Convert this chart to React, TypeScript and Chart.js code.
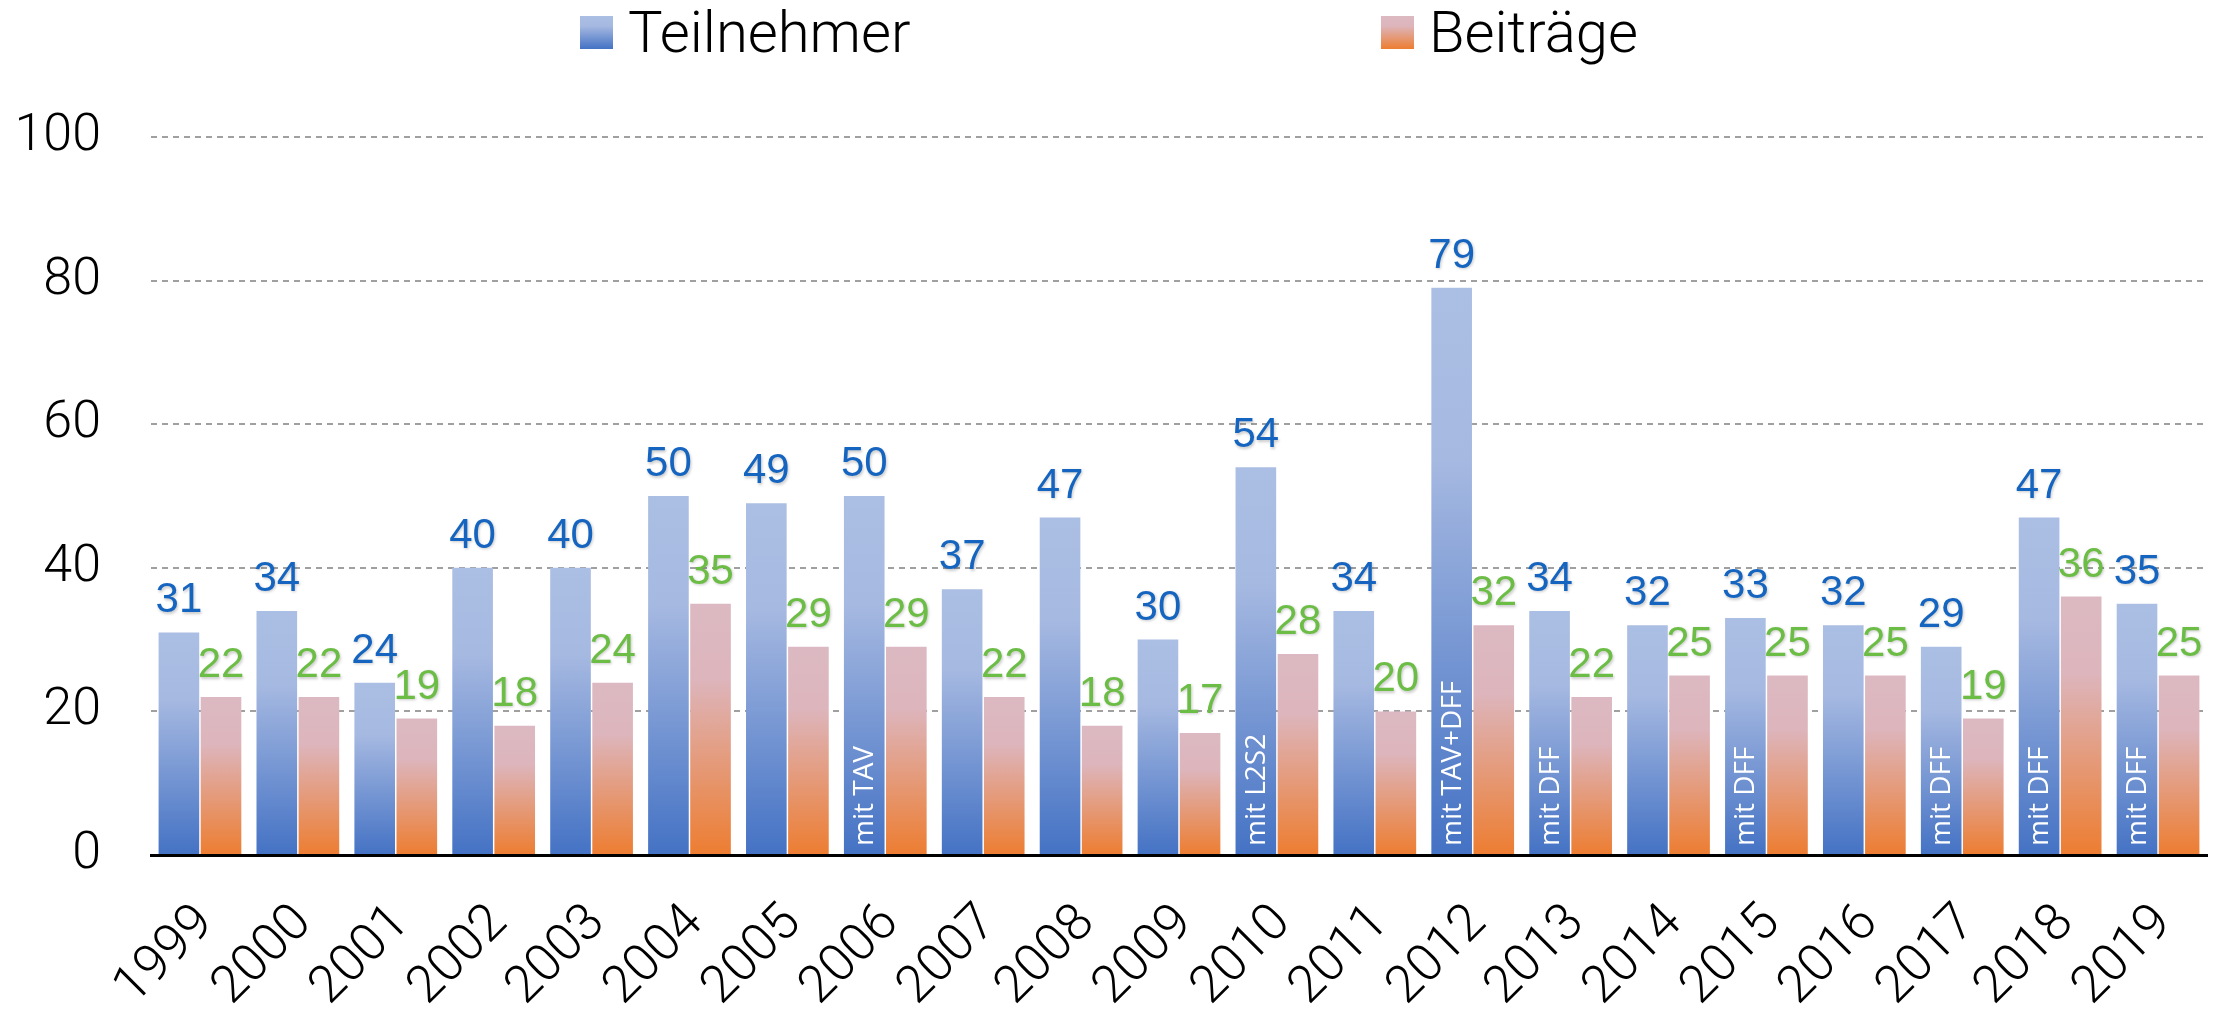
import React, { useEffect, useRef } from 'react';
import { Chart, registerables } from 'chart.js';

Chart.register(...registerables);

const W = 2231;
const H = 1011;

const years = ['1999', '2000', '2001', '2002', '2003', '2004', '2005', '2006', '2007', '2008', '2009', '2010', '2011', '2012', '2013', '2014', '2015', '2016', '2017', '2018', '2019'];
const teilnehmer = [31, 34, 24, 40, 40, 50, 49, 50, 37, 47, 30, 54, 34, 79, 34, 32, 33, 32, 29, 47, 35];
const beitraege = [22, 22, 19, 18, 24, 35, 29, 29, 22, 18, 17, 28, 20, 32, 22, 25, 25, 25, 19, 36, 25];
const notes = ['', '', '', '', '', '', '', 'mit TAV', '', '', '', 'mit L2S2', '', 'mit TAV+DFF', 'mit DFF', '', 'mit DFF', '', 'mit DFF', 'mit DFF', 'mit DFF'];
const seriesNames = ['Teilnehmer', 'Beiträge'];
const yMin = 0;
const yMax = 100;
const yStep = 20;

const blueStops = ['#abbee3', '#a6b9e1', '#4472c4'];
const pinkStops = ['#dcb9c2', '#ddb5bc', '#ed7d31'];
const labelColors = ['#1565c0', '#6cbd45'];

const AXIS_FONT = 'Roboto';

function makeGradient(ctx: CanvasRenderingContext2D, y0: number, y1: number, stops: string[]) {
  const g = ctx.createLinearGradient(0, y0, 0, y1);
  g.addColorStop(0, stops[0]);
  g.addColorStop(0.3, stops[1]);
  g.addColorStop(1, stops[2]);
  return g;
}

const barFill = (stops: string[]) => (c: any) => {
  if (c.type !== 'data') return stops[2];
  const chart = c.chart;
  const ys = chart.scales && chart.scales.y;
  if (!ys || !chart.chartArea) return stops[2];
  const yTop = ys.getPixelForValue(c.raw);
  const yBase = ys.getPixelForValue(0);
  if (!isFinite(yTop) || !isFinite(yBase) || yBase - yTop < 1) return stops[2];
  return makeGradient(chart.ctx, yTop, yBase, stops);
};

const overlayPlugin = {
  id: 'overlay',
  afterDatasetsDraw(chart: any) {
    const ctx: CanvasRenderingContext2D = chart.ctx;
    const ys = chart.scales.y;
    const base = ys.getPixelForValue(0);
    // value labels
    chart.data.datasets.forEach((ds: any, di: number) => {
      const meta = chart.getDatasetMeta(di);
      meta.data.forEach((el: any, i: number) => {
        ctx.save();
        ctx.font = `400 42px "Liberation Sans", Arial, sans-serif`;
        ctx.fillStyle = labelColors[di];
        ctx.textAlign = 'center';
        ctx.textBaseline = 'alphabetic';
        ctx.shadowColor = 'rgba(0,0,0,0.22)';
        ctx.shadowBlur = 3;
        ctx.shadowOffsetX = 1;
        ctx.shadowOffsetY = 1.5;
        ctx.fillText(String(ds.data[i]), el.x, el.y - 20);
        ctx.restore();
      });
    });
    // rotated notes inside blue bars
    const meta0 = chart.getDatasetMeta(0);
    notes.forEach((n, i) => {
      if (!n) return;
      const el = meta0.data[i];
      ctx.save();
      ctx.translate(el.x, base - 9);
      ctx.rotate(-Math.PI / 2);
      ctx.font = '28px "Open Sans", "Noto Sans", sans-serif';
      ctx.fillStyle = '#ffffff';
      ctx.textAlign = 'left';
      ctx.textBaseline = 'middle';
      ctx.fillText(n, 0, 1);
      ctx.restore();
    });
  },
  afterDraw(chart: any) {
    const ctx: CanvasRenderingContext2D = chart.ctx;
    const box = 33;
    const boxTop = 16;
    const itemX = [580, 1381];
    [blueStops, pinkStops].forEach((stops, i) => {
      ctx.save();
      ctx.fillStyle = makeGradient(ctx, boxTop, boxTop + box, stops);
      ctx.fillRect(itemX[i], boxTop, box, box);
      ctx.font = `300 58px ${AXIS_FONT}, "Liberation Sans", sans-serif`;
      ctx.fillStyle = '#000000';
      ctx.textAlign = 'left';
      ctx.textBaseline = 'alphabetic';
      ctx.fillText(seriesNames[i], itemX[i] + box + 15, 52);
      ctx.restore();
    });
  },
};

export default function App() {
  const ref = useRef<HTMLCanvasElement | null>(null);

  useEffect(() => {
    if (!ref.current) return;
    const chart = new Chart(ref.current, {
      type: 'bar',
      data: {
        labels: years,
        datasets: [
          {
            label: seriesNames[0],
            data: teilnehmer,
            backgroundColor: barFill(blueStops),
            borderWidth: 0,
            barPercentage: 0.965,
            categoryPercentage: 0.86,
          },
          {
            label: seriesNames[1],
            data: beitraege,
            backgroundColor: barFill(pinkStops),
            borderWidth: 0,
            barPercentage: 0.965,
            categoryPercentage: 0.86,
          },
        ],
      },
      options: {
        responsive: false,
        animation: false,
        devicePixelRatio: 1,
        layout: { padding: { top: 137, right: 24, left: 0, bottom: 0 } },
        plugins: {
          legend: { display: false },
          tooltip: { enabled: false },
          title: { display: false },
        },
        scales: {
          x: {
            grid: { display: false, drawTicks: false },
            border: { display: true, color: '#000000', width: 3, z: 1 },
            ticks: {
              color: '#000000',
              font: { family: AXIS_FONT, size: 52, weight: 300 },
              maxRotation: 45,
              minRotation: 45,
              padding: 38,
              labelOffset: 6,
              autoSkip: false,
            },
            afterFit: (scale: any) => {
              scale.height = 156;
              scale.paddingLeft = 0;
              scale.paddingRight = 0;
            },
          },
          y: {
            min: yMin,
            max: yMax,
            grid: {
              drawTicks: false,
              lineWidth: 2,
              color: (c: any) => (c.tick && c.tick.value === 0 ? 'rgba(0,0,0,0)' : '#a0a0a0'),
            },
            border: { display: false, dash: [6, 5] },
            ticks: {
              stepSize: yStep,
              color: '#000000',
              font: { family: AXIS_FONT, size: 52, weight: 300 },
              padding: 50,
            },
            afterFit: (scale: any) => {
              scale.width = 151;
            },
          },
        },
      },
      plugins: [overlayPlugin],
    } as any);
    return () => chart.destroy();
  }, []);

  return (
    <div style={{ position: 'fixed', left: 0, top: 0, width: W, height: H, background: '#ffffff' }}>
      <canvas ref={ref} width={W} height={H} style={{ width: W, height: H, display: 'block' }} />
    </div>
  );
}
